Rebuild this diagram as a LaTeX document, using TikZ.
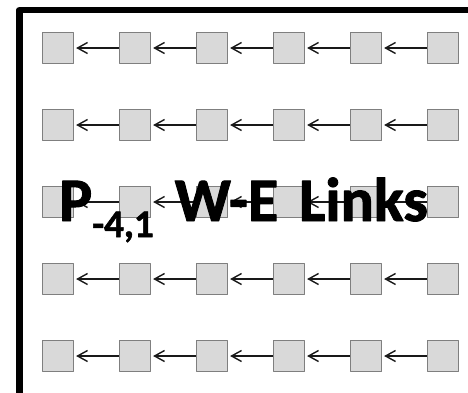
\documentclass[tikz,border=0pt]{standalone}
\usepackage{fontspec}
\setmainfont{Carlito}
\newfontfamily\titlefont[FakeBold=1.5, WordSpace=1.5]{Carlito Bold}
\usepackage{xcolor}
\usetikzlibrary{arrows.meta}
\definecolor{cellfill}{HTML}{D9D9D9}
\definecolor{celledge}{HTML}{7F7F7F}
\tikzset{
  every picture/.style={line join=round, >={Straight Barb[length=10pt,width=11pt]}},
  cell/.style={draw=celledge, fill=cellfill, line width=1.2pt, minimum size=31pt, inner sep=0pt},
  link/.style={->, draw=black!90, line width=1.4pt, shorten >=2pt},
  frame/.style={line width=6.5pt, line cap=rect},
}

\begin{document}
\begin{tikzpicture}[x=1pt,y=-1pt]
\useasboundingbox (0,0) rectangle (468,392);
% outer frame, only top and left edges show
\draw[frame] (19.5,400) -- (19.5,10) -- (480,10);
% grid of cells, links point west
\foreach \r [count=\j] in {48,125,202,279,356} {
  \foreach \c [count=\i] in {58,135,212,289,366,443}
    \node[cell] (p\i\j) at (\c,\r) {};
  \foreach \i [evaluate=\i as \k using int(\i+1)] in {1,...,5}
    \draw[link] (p\k\j.west) -- (p\i\j.east);
}
\node[anchor=base west, inner sep=0pt, font=\fontsize{62}{62}\titlefont] (title) at (59,221)
  {P\raisebox{-16pt}{\fontsize{39}{39}\selectfont -4,1} W-E Links};
\end{tikzpicture}
\end{document}
